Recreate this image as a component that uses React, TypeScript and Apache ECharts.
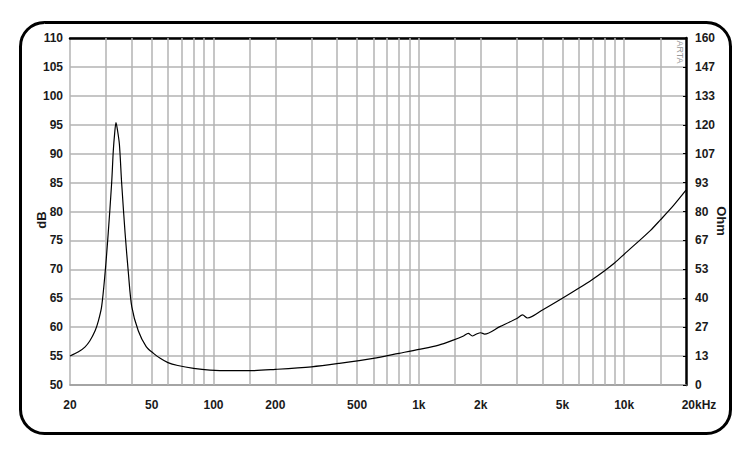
import React, { useEffect, useRef } from 'react';
import * as echarts from 'echarts';

// impedance curve (frequency in Hz, impedance in Ohm)
const freqHz = [
  20, 22, 23.7, 25, 26.5, 27.5, 28.5, 29.6, 30.7, 31.9, 32.5, 33, 33.5, 34, 34.8, 35.7,
  37.1, 38.5, 40, 43, 47, 51, 55, 60, 67, 80, 96, 120, 150, 200, 300, 410, 600, 800,
  1000, 1250, 1470, 1650, 1740, 1820, 1900, 2000, 2090, 2480, 3000, 3200, 3380, 4000,
  5000, 6000, 7000, 8000, 9000, 10000, 13400, 15000, 17400, 20000,
];
const impedanceOhm = [
  13.4, 15.3, 17.6, 20.4, 25, 29.6, 36, 51, 70, 93, 108, 116, 121, 118, 111, 93,
  70, 51.5, 36, 25, 17.7, 14.6, 12.3, 10.3, 9.0, 7.7, 6.9, 6.6, 6.6, 7.2, 8.4, 10.0, 12.3, 14.6,
  16.4, 18.4, 20.7, 22.6, 23.8, 22.6, 23.4, 24.1, 23.5, 26.9, 30.7, 32.3, 30.9, 34.6,
  40, 44.6, 48.7, 52.6, 56.4, 60.3, 71.2, 76.1, 82.8, 89.8,
];

// vertical grid lines and x labels
const gridFreqs = [
  30, 40, 50, 60, 70, 80, 90, 100, 150, 200, 300, 400, 500, 600, 700, 800, 900, 1000,
  1500, 2000, 3000, 4000, 5000, 6000, 7000, 8000, 9000, 10000, 15000,
];
const labelFreqs = [20, 50, 100, 200, 500, 1000, 2000, 5000, 10000, 20000];

const labelFont = {
  fontFamily: 'Liberation Sans, Arial, sans-serif',
  fontWeight: 'bold' as const,
  fontSize: 12,
  color: '#1a1a1a',
};
const gridColor = '#b3b3b3';

export default function App() {
  const chartRef = useRef<HTMLDivElement>(null);

  useEffect(() => {
    if (!chartRef.current) return;
    const chart = echarts.init(chartRef.current, undefined, { renderer: 'svg' });

    const option: any = {
      animation: false,
      backgroundColor: '#fff',
      grid: { left: 70, right: 69, top: 38, bottom: 68, outerBoundsMode: 'none' },
      xAxis: [
        {
          type: 'log',
          logBase: 10,
          min: 20,
          max: 20000,
          axisLine: { show: true, lineStyle: { color: '#999', width: 1.5 } },
          axisTick: { show: false },
          splitLine: { show: false },
          minorSplitLine: { show: false },
          axisLabel: {
            ...labelFont,
            margin: 14,
            customValues: labelFreqs,
            showMinLabel: true,
            showMaxLabel: true,
            formatter: (v: number) => {
              if (v >= 20000) return '{k|20kHz}';
              if (v >= 1000) return v / 1000 + 'k';
              return String(v);
            },
            rich: {
              k: { ...labelFont, padding: [0, 0, 0, 26] },
            },
          },
        },
        {
          type: 'log',
          logBase: 10,
          min: 20,
          max: 20000,
          position: 'top',
          axisLine: { show: true, lineStyle: { color: '#000', width: 2.5 } },
          axisTick: { show: false },
          axisLabel: { show: false },
          splitLine: { show: false },
        },
      ],
      yAxis: [
        {
          type: 'value',
          min: 50,
          max: 110,
          interval: 5,
          position: 'left',
          axisLine: { show: true, lineStyle: { color: gridColor, width: 1.5 } },
          axisTick: { show: false },
          axisLabel: { ...labelFont, margin: 7 },
          splitLine: { show: true, lineStyle: { color: gridColor, width: 1.5 } },
        },
        {
          type: 'value',
          min: 0,
          max: 160,
          interval: 160 / 12,
          position: 'right',
          axisLine: { show: true, lineStyle: { color: '#000', width: 2.5 } },
          axisTick: { show: true, inside: true, length: 3, lineStyle: { color: '#000' } },
          axisLabel: {
            ...labelFont,
            margin: 9,
            formatter: (v: number) => String(Math.round(v)),
          },
          splitLine: { show: false },
        },
      ],
      graphic: [
        {
          type: 'rect',
          shape: { x: 20.5, y: 22.5, width: 710, height: 411, r: 24 },
          style: { fill: 'none', stroke: '#000', lineWidth: 3 },
          silent: true,
          z: 100,
        },
        {
          type: 'text',
          x: 41,
          y: 220,
          rotation: Math.PI / 2,
          style: {
            text: 'dB',
            ...labelFont,
            fontSize: 13,
            fill: '#1a1a1a',
            align: 'center',
            verticalAlign: 'middle',
          },
        },
        {
          type: 'text',
          x: 721,
          y: 221,
          rotation: -Math.PI / 2,
          style: {
            text: 'Ohm',
            ...labelFont,
            fontSize: 13,
            fill: '#1a1a1a',
            align: 'center',
            verticalAlign: 'middle',
          },
        },
        {
          type: 'text',
          x: 680,
          y: 52,
          rotation: -Math.PI / 2,
          style: {
            text: 'ARTA',
            fontFamily: 'Liberation Sans, Arial, sans-serif',
            fontSize: 9,
            fill: '#999',
            align: 'center',
            verticalAlign: 'middle',
          },
        },
      ],
      series: [
        {
          name: 'Impedance',
          type: 'line',
          xAxisIndex: 0,
          yAxisIndex: 1,
          data: freqHz.map((f, i) => [f, impedanceOhm[i]]),
          showSymbol: false,
          smooth: 0.3,
          lineStyle: { color: '#000', width: 1.2 },
          z: 5,
          markLine: {
            silent: true,
            symbol: 'none',
            label: { show: false },
            lineStyle: { color: gridColor, width: 1.5, type: 'solid' },
            data: gridFreqs.map((f) => ({ xAxis: f })),
            z: 1,
          },
        },
      ],
    };

    chart.setOption(option);

    return () => {
      chart.dispose();
    };
  }, []);

  return (
    <div
      ref={chartRef}
      style={{ position: 'fixed', left: 0, top: 0, width: 755, height: 453 }}
    />
  );
}
